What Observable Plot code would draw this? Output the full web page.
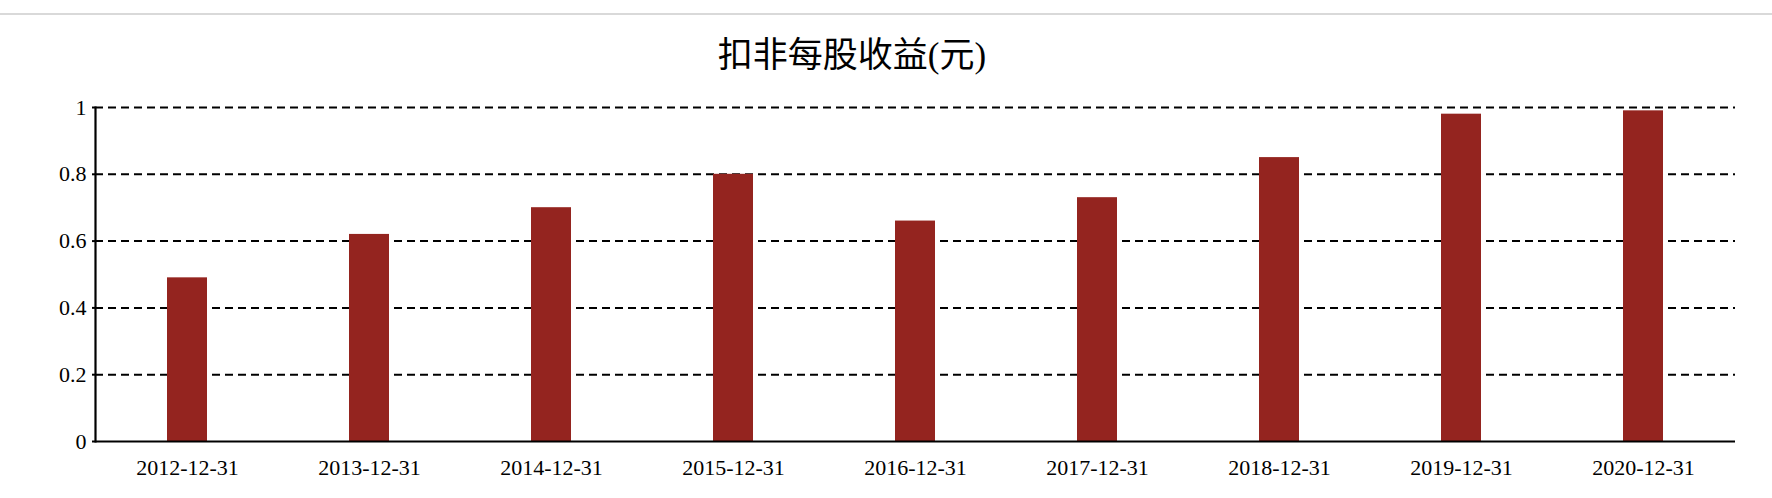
<!DOCTYPE html>
<html>
<head>
<meta charset="utf-8">
<script src="https://cdn.jsdelivr.net/npm/d3@7"></script>
<script src="https://cdn.jsdelivr.net/npm/@observablehq/plot@0.6"></script>
<style>
  html, body { margin: 0; padding: 0; background: #fff; }
  #wrap { position: relative; width: 1772px; height: 498px; overflow: hidden; }
  #topline { position: absolute; left: 0; top: 13px; width: 1772px; height: 2px; background: #d9d9d9; }
  #title { position: absolute; left: 0; top: 36px; width: 1704px; text-align: center;
           font-family: "Liberation Serif", "Noto Sans CJK SC", serif; font-size: 35px; color: #000; line-height: 40px; }
  #chart { position: absolute; left: 0; top: 70px; }
</style>
</head>
<body>
<div id="wrap">
  <div id="topline"></div>
  <div id="title">扣非每股收益(元)</div>
  <div id="chart"></div>
</div>
<script>
const dates = ["2012-12-31","2013-12-31","2014-12-31","2015-12-31","2016-12-31","2017-12-31","2018-12-31","2019-12-31","2020-12-31"];
const values = [0.49, 0.62, 0.70, 0.80, 0.66, 0.73, 0.85, 0.98, 0.99];
const yTicks = [0, 0.2, 0.4, 0.6, 0.8, 1];
const yTickLabels = ["0", "0.2", "0.4", "0.6", "0.8", "1"];

const data = dates.map((d, i) => ({date: d, value: values[i]}));

const chart = Plot.plot({
  width: 1772,
  height: 428,
  marginTop: 37,
  marginBottom: 57,
  marginLeft: 95,
  marginRight: 37,
  style: {fontFamily: "'Liberation Serif', 'Noto Sans CJK SC', serif", fontSize: "22px", color: "#000", background: "transparent"},
  x: {type: "band", domain: dates, paddingInner: 0.78, paddingOuter: 0.39, label: null},
  y: {domain: [0, 1], label: null},
  marks: [
    Plot.gridY(yTicks.filter(d => d > 0), {stroke: "#000", strokeOpacity: 1, strokeWidth: 2, strokeDasharray: "8,5"}),
    Plot.barY(data, {x: "date", y: "value", fill: "#94241f"}),
    Plot.axisY(yTicks, {tickSize: 3, tickPadding: 6, fontSize: 22, tickFormat: d => yTickLabels[yTicks.indexOf(d)], stroke: "#000", strokeWidth: 2}),
    Plot.axisX({tickSize: 0, tickPadding: 18, fontSize: 22}),
    Plot.ruleY([0], {stroke: "#000", strokeWidth: 2.2}),
    Plot.frame({anchor: "left", stroke: "#000", strokeWidth: 2.2})
  ]
});
document.getElementById("chart").appendChild(chart);
</script>
</body>
</html>
